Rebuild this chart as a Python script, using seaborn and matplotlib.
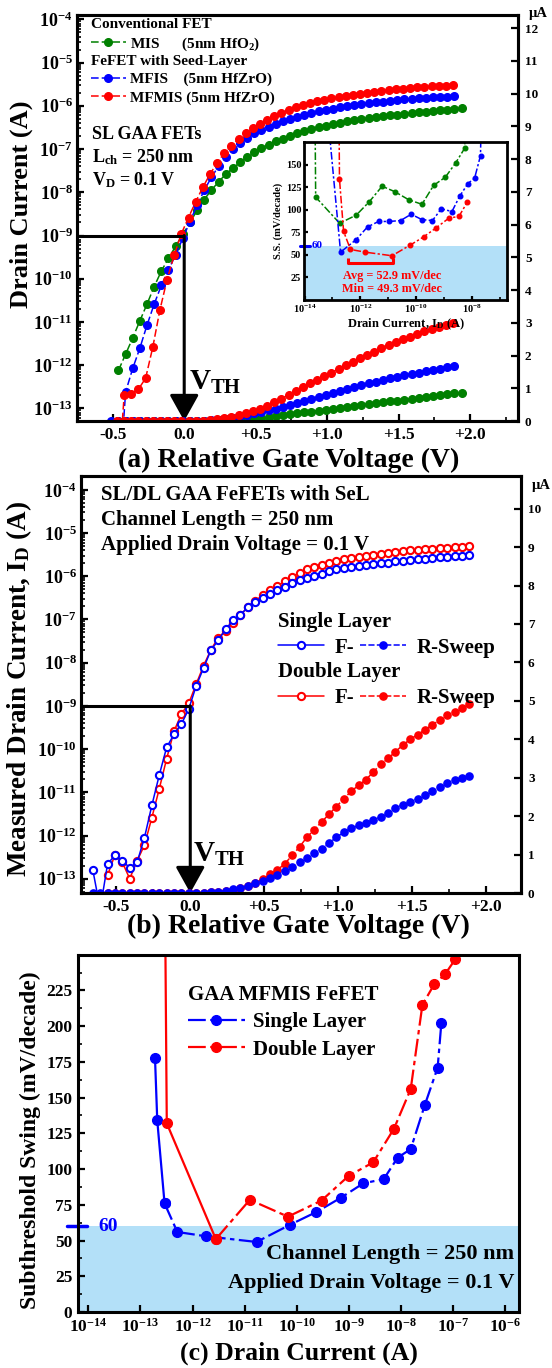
import numpy as np
import matplotlib
matplotlib.use("Agg")
import matplotlib.pyplot as plt
import matplotlib.ticker as mticker
import matplotlib.transforms as mtransforms
import seaborn as sns

# ---------------- (a) SL GAA FETs: drain current (A) vs relative gate voltage (V)
mis_vg = [-0.46, -0.41, -0.36, -0.31, -0.26, -0.21, -0.16, -0.11, -0.06, -0.01,
          0.04, 0.09, 0.14, 0.19, 0.24, 0.29, 0.34, 0.39, 0.44, 0.49,
          0.54, 0.59, 0.64, 0.69, 0.74, 0.79, 0.84, 0.89, 0.94, 0.99,
          1.04, 1.09, 1.14, 1.19, 1.24, 1.29, 1.34, 1.39, 1.44, 1.49,
          1.54, 1.59, 1.64, 1.69, 1.74, 1.79, 1.84, 1.89, 1.94]
mis_id = [7.6e-13, 1.8e-12, 4.3e-12, 1.07e-11, 2.6e-11, 6.6e-11, 1.5e-10, 3.0e-10, 5.6e-10, 1.07e-9,
          2.0e-9, 3.8e-9, 6.8e-9, 1.12e-8, 1.74e-8, 2.6e-8, 3.6e-8, 4.9e-8, 6.6e-8, 8.5e-8,
          1.05e-7, 1.26e-7, 1.5e-7, 1.75e-7, 2.0e-7, 2.3e-7, 2.6e-7, 2.9e-7, 3.2e-7, 3.5e-7,
          3.8e-7, 4.1e-7, 4.4e-7, 4.7e-7, 5.0e-7, 5.2e-7, 5.5e-7, 5.7e-7, 6.0e-7, 6.2e-7,
          6.5e-7, 6.8e-7, 7.1e-7, 7.3e-7, 7.6e-7, 7.9e-7, 8.2e-7, 8.5e-7, 8.7e-7]

mfis_vg = [-0.51, -0.46, -0.41, -0.36, -0.31, -0.26, -0.21, -0.16, -0.11, -0.06, -0.01,
           0.04, 0.09, 0.14, 0.19, 0.24, 0.29, 0.34, 0.39, 0.44, 0.49,
           0.54, 0.59, 0.64, 0.69, 0.74, 0.79, 0.84, 0.89, 0.94, 0.99,
           1.04, 1.09, 1.14, 1.19, 1.24, 1.29, 1.34, 1.39, 1.44, 1.49,
           1.54, 1.59, 1.64, 1.69, 1.74, 1.79, 1.84, 1.89]
mfis_id = [1e-15, 1e-15, 2.4e-13, 8.5e-13, 2.5e-12, 8.5e-12, 2.6e-11, 7.0e-11, 1.6e-10, 3.6e-10, 8.6e-10,
           2.1e-9, 5.0e-9, 1.12e-8, 2.2e-8, 4.0e-8, 6.6e-8, 1.0e-7, 1.38e-7, 1.8e-7, 2.3e-7,
           2.8e-7, 3.3e-7, 3.8e-7, 4.4e-7, 5.0e-7, 5.6e-7, 6.2e-7, 6.8e-7, 7.4e-7, 8.0e-7,
           8.6e-7, 9.2e-7, 9.8e-7, 1.04e-6, 1.1e-6, 1.15e-6, 1.2e-6, 1.25e-6, 1.3e-6, 1.35e-6,
           1.4e-6, 1.44e-6, 1.48e-6, 1.52e-6, 1.56e-6, 1.6e-6, 1.64e-6, 1.68e-6]

mfmis_vg = [-0.47, -0.42, -0.37, -0.32, -0.27, -0.22, -0.17, -0.12, -0.07, -0.02,
            0.03, 0.08, 0.13, 0.18, 0.23, 0.28, 0.33, 0.38, 0.43, 0.48,
            0.53, 0.58, 0.63, 0.68, 0.73, 0.78, 0.83, 0.88, 0.93, 0.98,
            1.03, 1.08, 1.13, 1.18, 1.23, 1.28, 1.33, 1.38, 1.43, 1.48,
            1.53, 1.58, 1.63, 1.68, 1.73, 1.78, 1.83, 1.88]
mfmis_id = [1e-15, 2.0e-13, 2.2e-13, 2.8e-13, 5.0e-13, 2.6e-12, 1.9e-11, 9.5e-11, 3.5e-10, 1.1e-9,
            2.6e-9, 6.0e-9, 1.3e-8, 2.6e-8, 4.8e-8, 8.0e-8, 1.2e-7, 1.7e-7, 2.3e-7, 3.0e-7,
            3.8e-7, 4.7e-7, 5.7e-7, 6.8e-7, 8.0e-7, 9.2e-7, 1.04e-6, 1.15e-6, 1.26e-6, 1.37e-6,
            1.48e-6, 1.59e-6, 1.7e-6, 1.81e-6, 1.92e-6, 2.02e-6, 2.12e-6, 2.22e-6, 2.32e-6, 2.41e-6,
            2.5e-6, 2.58e-6, 2.66e-6, 2.74e-6, 2.81e-6, 2.88e-6, 2.94e-6, 3.0e-6]

# inset of (a): subthreshold swing (mV/decade) vs drain current (A)
mis_ss_id = [2.3e-14, 2.5e-14, 1.8e-13, 7.1e-13, 2.1e-12, 6.0e-12, 1.7e-11, 5.4e-11, 1.6e-10,
             4.2e-10, 1.1e-9, 2.6e-9, 5.4e-9, 7.5e-9]
mis_ss = [260, 114, 85, 94, 109, 126, 120, 111, 106, 127, 136, 152, 168, 260]
mfis_ss_id = [4.6e-14, 1.95e-13, 7.1e-13, 1.8e-12, 4.5e-12, 1.1e-11, 2.75e-11, 6.6e-11, 1.6e-10,
              3.8e-10, 7.9e-10, 1.9e-9, 3.6e-9, 7.1e-9, 1.23e-8, 2.0e-8, 2.3e-8]
mfis_ss = [260, 53, 67, 81, 87, 87, 88, 95, 89, 88, 101, 98, 115, 129, 135, 160, 260]
mfmis_ss_id = [1.66e-13, 1.78e-13, 2.5e-13, 4.4e-13, 1.48e-12, 1.35e-11, 6.2e-11, 1.86e-10,
               5.2e-10, 1.45e-9, 3.4e-9, 6.6e-9]
mfmis_ss = [260, 134, 76, 56, 53, 49, 61, 70, 80, 90.5, 92.7, 108]
avg_range_id = [3.5e-13, 1.5e-11]

# ---------------- (b) SL / DL GAA FeFETs with SeL
sl_vg = [-0.66, -0.61, -0.56, -0.51, -0.46, -0.41, -0.36, -0.31, -0.26, -0.21,
         -0.16, -0.11, -0.06, -0.01, 0.04, 0.09, 0.14, 0.19, 0.24, 0.29,
         0.34, 0.39, 0.44, 0.49, 0.54, 0.59, 0.64, 0.69, 0.74, 0.79,
         0.84, 0.89, 0.94, 0.99, 1.04, 1.09, 1.14, 1.19, 1.24, 1.29,
         1.34, 1.39, 1.44, 1.49, 1.54, 1.59, 1.64, 1.69, 1.74, 1.79, 1.84, 1.89]
sl_id = [1.6e-13, 2e-14, 2.2e-13, 3.5e-13, 2.6e-13, 1.8e-13, 2.4e-13, 9e-13, 5e-12, 2.5e-11,
         1.1e-10, 2.2e-10, 3.8e-10, 8.5e-10, 2.9e-9, 7.5e-9, 1.95e-8, 3.3e-8, 6.0e-8, 9.5e-8,
         1.3e-7, 1.9e-7, 2.5e-7, 3.1e-7, 3.9e-7, 4.7e-7, 5.7e-7, 6.8e-7, 8.0e-7, 9.2e-7,
         1.04e-6, 1.15e-6, 1.3e-6, 1.45e-6, 1.58e-6, 1.68e-6, 1.76e-6, 1.83e-6, 1.9e-6, 1.98e-6,
         2.08e-6, 2.2e-6, 2.3e-6, 2.38e-6, 2.45e-6, 2.55e-6, 2.65e-6, 2.75e-6, 2.85e-6, 2.93e-6,
         3.0e-6, 3.05e-6]
dl_vg = [-0.56, -0.51, -0.46, -0.41, -0.36, -0.31, -0.26, -0.21, -0.16, -0.11,
         -0.06, -0.01, 0.04, 0.09, 0.14, 0.19, 0.24, 0.29, 0.34, 0.39,
         0.44, 0.49, 0.54, 0.59, 0.64, 0.69, 0.74, 0.79, 0.84, 0.89,
         0.94, 0.99, 1.04, 1.09, 1.14, 1.19, 1.24, 1.29, 1.34, 1.39,
         1.44, 1.49, 1.54, 1.59, 1.64, 1.69, 1.74, 1.79, 1.84, 1.89]
dl_id = [1.2e-13, 3.6e-13, 2.4e-13, 1.0e-13, 2.6e-13, 6e-13, 2.6e-12, 1.2e-11, 6e-11, 2.6e-10,
         6.5e-10, 1.15e-9, 3.2e-9, 8.5e-9, 2.0e-8, 3.8e-8, 5.5e-8, 8.5e-8, 1.3e-7, 1.9e-7,
         2.7e-7, 3.6e-7, 4.9e-7, 6.0e-7, 7.6e-7, 9.8e-7, 1.2e-6, 1.45e-6, 1.65e-6, 1.85e-6,
         2.05e-6, 2.25e-6, 2.45e-6, 2.65e-6, 2.8e-6, 2.95e-6, 3.15e-6, 3.35e-6, 3.5e-6, 3.68e-6,
         3.85e-6, 4.0e-6, 4.12e-6, 4.25e-6, 4.38e-6, 4.5e-6, 4.62e-6, 4.72e-6, 4.82e-6, 4.92e-6]

# ---------------- (c) GAA MFMIS FeFET: subthreshold swing vs drain current
sl_ss_id = [1.9e-13, 2.1e-13, 2.9e-13, 5.1e-13, 1.8e-12, 1.7e-11, 7.4e-11, 2.4e-10,
            7.1e-10, 1.9e-9, 4.7e-9, 8.7e-9, 1.55e-8, 2.9e-8, 5.1e-8, 6.0e-8]
sl_ss = [178, 134, 76, 56, 53, 49, 61, 70, 80, 90, 93, 108, 114, 145, 171, 202]
dl_ss_id = [2.8e-13, 3.2e-13, 2.8e-12, 1.26e-11, 6.8e-11, 3.0e-10, 1.0e-9, 2.95e-9,
            7.4e-9, 1.55e-8, 2.6e-8, 4.4e-8, 7.1e-8, 1.12e-7, 1.6e-7]
dl_ss = [400, 132, 51, 78.5, 66.7, 78, 95.3, 104.7, 128.3, 156, 215, 229.4, 236.4, 247, 262]

SS_LIMIT = 60
VTH_CURRENT = 1e-9

GREEN, BLUE, RED = "#008000", "#0000ff", "#ff0000"
SHADE = "#b3e0f8"
FIG_W, FIG_H = 552, 1368

sns.set_theme(style="ticks")
plt.rcParams.update({
    "font.family": ["Liberation Serif", "DejaVu Serif"],
    "font.weight": "bold",
    "axes.labelweight": "bold",
    "mathtext.fontset": "custom",
    "mathtext.rm": "Liberation Serif:bold",
    "mathtext.it": "Liberation Serif:italic:bold",
    "mathtext.bf": "Liberation Serif:bold",
    "mathtext.default": "rm",
    "axes.unicode_minus": False,
    "axes.linewidth": 2.2,
    "axes.edgecolor": "black",
    "axes.labelcolor": "black",
    "text.color": "black",
    "xtick.color": "black",
    "ytick.color": "black",
    "xtick.direction": "in",
    "ytick.direction": "in",
    "xtick.major.width": 1.6,
    "ytick.major.width": 1.6,
    "xtick.minor.width": 1.2,
    "ytick.minor.width": 1.2,
    "xtick.major.size": 5,
    "ytick.major.size": 5,
    "xtick.minor.size": 3,
    "ytick.minor.size": 3,
})


def px_axes(fig, left, top, right, bottom):
    return fig.add_axes([left / FIG_W, 1 - bottom / FIG_H,
                         (right - left) / FIG_W, (bottom - top) / FIG_H])


def curve(ax, x, y, color, ls, ms=5.5, mfc=None, lw=1.1, mew=1.0):
    sns.lineplot(x=x, y=y, ax=ax, color=color, linestyle=ls, linewidth=lw,
                 marker="o", markersize=ms, markerfacecolor=mfc or color,
                 markeredgecolor=color, markeredgewidth=mew,
                 sort=False, estimator=None, legend=False)
    return ax.lines[-1]


def log_label(v, _):
    return f"$10^{{{int(round(np.log10(v)))}}}$"


def volt_label(v, _):
    if abs(v) < 1e-9:
        return "0.0"
    return f"{v:+.1f}"


def style_log_y(ax, size):
    ax.yaxis.set_major_locator(mticker.LogLocator(base=10, numticks=20))
    ax.yaxis.set_minor_locator(mticker.LogLocator(base=10, subs=np.arange(2, 10), numticks=20))
    ax.yaxis.set_major_formatter(mticker.FuncFormatter(log_label))
    ax.yaxis.set_minor_formatter(mticker.NullFormatter())
    ax.tick_params(axis="y", labelsize=size, pad=3)


def style_volt_x(ax, size):
    ax.xaxis.set_major_locator(mticker.MultipleLocator(0.5))
    ax.xaxis.set_minor_locator(mticker.MultipleLocator(0.25))
    ax.xaxis.set_major_formatter(mticker.FuncFormatter(volt_label))
    ax.tick_params(axis="x", labelsize=size, pad=4)


def style_right(ax, top):
    ax.set_ylim(0, top)
    ax.yaxis.set_major_locator(mticker.MultipleLocator(1))
    ax.yaxis.set_major_formatter(mticker.FormatStrFormatter("%d"))
    ax.tick_params(axis="y", labelsize=9.5, pad=5)


def vth_marker(ax, x_text, y_text):
    x0 = ax.get_xlim()[0]
    y0 = ax.get_ylim()[0]
    ax.hlines(VTH_CURRENT, x0, 0, color="black", lw=2.2, zorder=4)
    ax.annotate("", xy=(0, y0), xytext=(0, VTH_CURRENT),
                arrowprops=dict(arrowstyle="-|>,head_length=0.9,head_width=0.5",
                                color="black", lw=2.2, shrinkA=0, shrinkB=0,
                                mutation_scale=18), zorder=4)
    ax.text(x_text, y_text, r"V$_\mathrm{TH}$", fontsize=21, va="center", ha="left")


fig = plt.figure(figsize=(FIG_W / 100, FIG_H / 100), dpi=100)

# ======================= (a)
ax_a = px_axes(fig, 77, 15, 518, 421)
ax_a.set_yscale("log")
h_mis = curve(ax_a, mis_vg, mis_id, GREEN, (0, (5, 2)))
h_mfis = curve(ax_a, mfis_vg, mfis_id, BLUE, (0, (5, 2)))
h_mfmis = curve(ax_a, mfmis_vg, mfmis_id, RED, (0, (5, 2)))
ax_a.set_xlim(-0.75, 2.335)
ax_a.set_ylim(10 ** -13.29, 10 ** -3.9)
style_log_y(ax_a, 13)
style_volt_x(ax_a, 12.5)
ax_a.set_ylabel("Drain Current (A)", fontsize=19)
ax_a.set_xlabel("(a) Relative Gate Voltage (V)", fontsize=20)
ax_a.yaxis.set_label_coords(-0.127, 0.535)
ax_a.xaxis.set_label_coords(0.48, -0.098)
ax_a.yaxis.label.set_va("center")
ax_a.xaxis.label.set_va("center")
vth_marker(ax_a, 0.03, 10 ** -12.4)
ax_a.text(0.034, 0.705, "SL GAA FETs", transform=ax_a.transAxes, fontsize=13, va="center")
ax_a.text(0.034, 0.651, r"L$_\mathrm{ch}$ = 250 nm", transform=ax_a.transAxes, fontsize=13, va="center")
ax_a.text(0.034, 0.594, r"V$_\mathrm{D}$ = 0.1 V", transform=ax_a.transAxes, fontsize=13, va="center")

ax_a2 = ax_a.twinx()
curve(ax_a2, mis_vg, np.array(mis_id) * 1e6, GREEN, (0, (5, 2)))
curve(ax_a2, mfis_vg, np.array(mfis_id) * 1e6, BLUE, (0, (5, 2)))
curve(ax_a2, mfmis_vg, np.array(mfmis_id) * 1e6, RED, (0, (5, 2)))
ax_a2.set_xlim(-0.75, 2.335)
style_right(ax_a2, 12.4)
fig.text(538 / FIG_W, 1 - 14 / FIG_H, "µA", fontsize=10.5, ha="center", va="center")

leg_kw = dict(loc="upper left", frameon=False, alignment="left", borderpad=0, borderaxespad=0,
              prop={"size": 11, "weight": "bold"},
              title_fontproperties={"size": 11, "weight": "bold"},
              handlelength=2.3, handletextpad=0.3, labelspacing=0.3)
leg1 = ax_a2.legend(handles=[h_mis], labels=["MIS      (5nm HfO$_2$)"],
                    title="Conventional FET", bbox_to_anchor=(0.031, 0.993), **leg_kw)
ax_a2.add_artist(leg1)
ax_a2.legend(handles=[h_mfis, h_mfmis],
             labels=["MFIS    (5nm HfZrO)", "MFMIS (5nm HfZrO)"],
             title="FeFET with Seed-Layer", bbox_to_anchor=(0.031, 0.902), **leg_kw)

# inset
ax_in = px_axes(fig, 304, 142, 507, 300)
ax_in.set_zorder(10)
ax_in.set_facecolor("white")
ax_in.axhspan(0, SS_LIMIT, color=SHADE, lw=0, zorder=0)
curve(ax_in, mis_ss_id, mis_ss, GREEN, (0, (5, 1.5, 1.5, 1.5)), ms=3.3)
curve(ax_in, mfis_ss_id, mfis_ss, BLUE, (0, (5, 1.5, 1.5, 1.5)), ms=3.3)
curve(ax_in, mfmis_ss_id, mfmis_ss, RED, (0, (5, 1.5, 1.5, 1.5)), ms=3.3)
ax_in.set_xscale("log")
ax_in.set_xlim(10 ** -14.02, 10 ** -6.75)
ax_in.set_ylim(0, 175)
for sp in ax_in.spines.values():
    sp.set_linewidth(2)
ax_in.yaxis.set_major_locator(mticker.FixedLocator([25, 50, 75, 100, 125, 150]))
ax_in.xaxis.set_major_locator(mticker.LogLocator(base=100, numticks=10))
ax_in.xaxis.set_minor_locator(mticker.FixedLocator([1e-13, 1e-11, 1e-9, 1e-7]))
ax_in.xaxis.set_major_formatter(mticker.FuncFormatter(log_label))
ax_in.xaxis.set_minor_formatter(mticker.NullFormatter())
ax_in.tick_params(labelsize=7.5, pad=2, length=3)
ax_in.tick_params(which="minor", length=2)
ax_in.set_ylabel("S.S. (mV/decade)", fontsize=7.5, labelpad=2)
ax_in.set_xlabel(r"Drain Current, I$_\mathrm{D}$ (A)", fontsize=9, labelpad=1)
blend_in = mtransforms.blended_transform_factory(ax_in.transAxes, ax_in.transData)
ax_in.plot([-0.02, 0.03], [SS_LIMIT, SS_LIMIT], color=BLUE, lw=2.2, transform=blend_in, clip_on=False)
ax_in.text(0.04, SS_LIMIT, "60", color=BLUE, fontsize=8, va="center", transform=blend_in)
ax_in.plot([avg_range_id[0], avg_range_id[0], avg_range_id[1], avg_range_id[1]],
           [46, 41, 41, 46], color=RED, lw=2.2, solid_capstyle="butt")
ax_in.text(0.435, 0.154, "Avg = 52.9 mV/dec", color=RED, fontsize=8.8, ha="center",
           va="center", transform=ax_in.transAxes)
ax_in.text(0.435, 0.068, "Min = 49.3 mV/dec", color=RED, fontsize=8.8, ha="center",
           va="center", transform=ax_in.transAxes)

# ======================= (b)
ax_b = px_axes(fig, 81, 476, 521, 893)
ax_b.set_yscale("log")
h_dl_f = curve(ax_b, dl_vg, dl_id, RED, "-", ms=5.2, mfc="white", mew=1.5)
h_sl_f = curve(ax_b, sl_vg, sl_id, BLUE, "-", ms=5.2, mfc="white", mew=1.5)
ax_b.set_xlim(-0.74, 2.24)
ax_b.set_ylim(10 ** -13.33, 10 ** -3.68)
style_log_y(ax_b, 13)
style_volt_x(ax_b, 12.5)
ax_b.set_ylabel(r"Measured Drain Current, I$_\mathrm{D}$ (A)", fontsize=19.5)
ax_b.set_xlabel("(b) Relative Gate Voltage (V)", fontsize=20)
ax_b.yaxis.set_label_coords(-0.14, 0.49)
ax_b.xaxis.set_label_coords(0.495, -0.081)
ax_b.yaxis.label.set_va("center")
ax_b.xaxis.label.set_va("center")
vth_marker(ax_b, 0.02, 10 ** -12.44)
for y_frac, txt in [(0.954, "SL/DL GAA FeFETs with SeL"),
                    (0.894, "Channel Length = 250 nm"),
                    (0.835, "Applied Drain Voltage = 0.1 V")]:
    ax_b.text(0.045, y_frac, txt, transform=ax_b.transAxes, fontsize=15, va="center")

ax_b2 = ax_b.twinx()
h_dl_r = curve(ax_b2, dl_vg, np.array(dl_id) * 1e6, RED, (0, (4, 1.5)), ms=5.2)
h_sl_r = curve(ax_b2, sl_vg, np.array(sl_id) * 1e6, BLUE, (0, (4, 1.5)), ms=5.2)
ax_b2.set_xlim(-0.74, 2.24)
style_right(ax_b2, 10.85)
fig.text(541 / FIG_W, 1 - 485 / FIG_H, "µA", fontsize=10.5, ha="center", va="center")

leg_b = dict(loc="upper left", frameon=False, alignment="left", borderpad=0, borderaxespad=0,
             prop={"size": 15, "weight": "bold"},
             title_fontproperties={"size": 15, "weight": "bold"},
             ncol=2, handlelength=2.2, handletextpad=0.5, columnspacing=0.3, labelspacing=0.3)
leg_sl = ax_b2.legend(handles=[h_sl_f, h_sl_r], labels=["F-", "R-Sweep"], title="Single Layer",
                      bbox_to_anchor=(0.448, 0.675), **leg_b)
ax_b2.add_artist(leg_sl)
ax_b2.legend(handles=[h_dl_f, h_dl_r], labels=["F-", "R-Sweep"], title="Double Layer",
             bbox_to_anchor=(0.448, 0.555), **leg_b)

# ======================= (c)
ax_c = px_axes(fig, 78, 955, 519, 1312)
ax_c.axhspan(0, SS_LIMIT, color=SHADE, lw=0, zorder=0)
dashdot = (0, (8, 2, 2, 2))
curve(ax_c, sl_ss_id[:3], sl_ss[:3], BLUE, "-", ms=7, lw=1.6)
h_sl_ss = curve(ax_c, sl_ss_id[2:], sl_ss[2:], BLUE, dashdot, ms=7, lw=1.6)
curve(ax_c, dl_ss_id[:3], dl_ss[:3], RED, "-", ms=7, lw=1.6)
h_dl_ss = curve(ax_c, dl_ss_id[2:], dl_ss[2:], RED, dashdot, ms=7, lw=1.6)
ax_c.set_xscale("log")
ax_c.set_xlim(10 ** -14.2, 10 ** -5.73)
ax_c.set_ylim(0, 249.8)
ax_c.yaxis.set_major_locator(mticker.MultipleLocator(25))
ax_c.yaxis.set_minor_locator(mticker.MultipleLocator(12.5))
ax_c.xaxis.set_major_locator(mticker.LogLocator(base=10, numticks=20))
ax_c.xaxis.set_minor_locator(mticker.NullLocator())
ax_c.xaxis.set_major_formatter(mticker.FuncFormatter(log_label))
ax_c.tick_params(axis="both", labelsize=12.5, pad=4)
ax_c.set_ylabel("Subthreshold Swing (mV/decade)", fontsize=17)
ax_c.set_xlabel("(c) Drain Current (A)", fontsize=18.5)
ax_c.yaxis.set_label_coords(-0.108, 0.48)
ax_c.xaxis.set_label_coords(0.5, -0.115)
ax_c.yaxis.label.set_va("center")
ax_c.xaxis.label.set_va("center")
blend_c = mtransforms.blended_transform_factory(ax_c.transAxes, ax_c.transData)
ax_c.plot([-0.024, 0.02], [SS_LIMIT, SS_LIMIT], color=BLUE, lw=2.5, transform=blend_c, clip_on=False)
ax_c.text(0.047, SS_LIMIT, "60", color=BLUE, fontsize=14, va="center", transform=blend_c)
ax_c.text(0.989, 0.162, "Channel Length = 250 nm", transform=ax_c.transAxes, fontsize=16,
          ha="right", va="center")
ax_c.text(0.989, 0.082, "Applied Drain Voltage = 0.1 V", transform=ax_c.transAxes, fontsize=16,
          ha="right", va="center")
ax_c.legend(handles=[h_sl_ss, h_dl_ss], labels=["Single Layer", "Double Layer"],
            title="GAA MFMIS FeFET", loc="upper left", bbox_to_anchor=(0.25, 0.916),
            frameon=False, alignment="left", borderpad=0, borderaxespad=0,
            prop={"size": 15, "weight": "bold"},
            title_fontproperties={"size": 15, "weight": "bold"},
            handlelength=2.7, handletextpad=0.4, labelspacing=0.35)

fig.savefig("out.png", dpi=100)
